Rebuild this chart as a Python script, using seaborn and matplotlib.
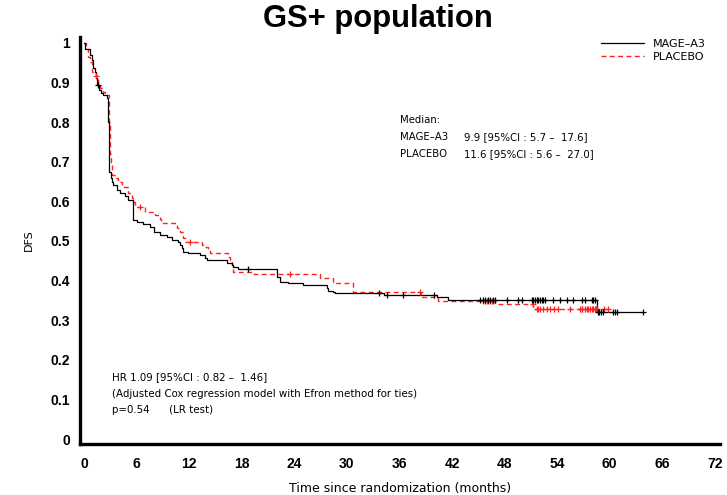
import numpy as np
import pandas as pd
import matplotlib
matplotlib.use("Agg")
import matplotlib.pyplot as plt
import seaborn as sns

# ---------------- data ----------------
arms = ["MAGE-A3", "PLACEBO"]

mage_times = [0.1, 0.7, 0.9, 1.0, 1.25, 1.35, 1.5, 1.7, 1.95, 2.15, 2.6,
              2.75, 2.78, 2.8, 2.83, 2.86, 2.9, 3.1, 3.2, 3.3, 3.75, 4.1, 4.65,
              5.0, 5.55, 5.6, 6.0, 6.75, 7.55, 8.0, 8.65, 9.5, 10.05, 10.7,
              11.0, 11.2, 11.3, 11.9, 13.2, 13.8, 14.05, 16.3, 16.9, 17.0, 17.6,
              22.0, 22.4, 23.3, 25.0, 27.7, 27.8, 28.4, 28.6, 34.2, 40.3, 41.6,
              58.56]
mage_surv = [0.985, 0.970, 0.957, 0.937, 0.927, 0.912, 0.894, 0.880, 0.874,
             0.869, 0.861, 0.84, 0.80, 0.76, 0.72, 0.69, 0.674, 0.66, 0.649,
             0.641, 0.629, 0.621, 0.614, 0.603, 0.580, 0.553, 0.548, 0.543,
             0.535, 0.523, 0.515, 0.510, 0.503, 0.497, 0.490, 0.482, 0.472,
             0.470, 0.465, 0.457, 0.452, 0.444, 0.440, 0.434, 0.429, 0.409,
             0.396, 0.394, 0.389, 0.381, 0.374, 0.371, 0.369, 0.364, 0.359,
             0.352, 0.321]
mage_end = 63.8
mage_censor = [1.6, 18.7, 33.7, 34.6, 36.4, 40.0, 45.2, 45.5, 45.8, 46.1, 46.4,
               46.7, 46.9, 48.3, 49.5, 50.0, 51.1, 51.2, 51.5, 51.7, 51.8, 52.0,
               52.3, 52.4, 52.6, 53.5, 54.3, 55.1, 55.8, 56.9, 57.2, 58.0, 58.1,
               58.3, 58.7, 58.8, 59.0, 59.2, 60.4, 60.6, 60.8, 63.8]

plac_times = [0.2, 0.45, 0.7, 0.9, 1.35, 1.6, 1.8, 2.2, 2.4, 2.85, 2.9, 2.95,
              3.0, 3.1, 3.25, 3.6, 3.9, 4.35, 5.0, 5.5, 5.6, 5.8, 6.95, 8.1,
              8.7, 8.8, 10.6, 10.96, 11.3, 11.5, 13.5, 13.6, 14.15, 14.4, 16.45,
              16.7, 16.9, 17.0, 19.3, 26.9, 28.4, 30.7, 38.5, 40.4, 46.9, 51.3]
plac_surv = [0.985, 0.965, 0.952, 0.927, 0.917, 0.900, 0.885, 0.875, 0.869,
             0.84, 0.80, 0.76, 0.72, 0.70, 0.667, 0.659, 0.649, 0.636, 0.621,
             0.608, 0.598, 0.586, 0.573, 0.566, 0.556, 0.545, 0.533, 0.523,
             0.508, 0.497, 0.490, 0.485, 0.477, 0.470, 0.460, 0.452, 0.440,
             0.422, 0.417, 0.407, 0.394, 0.371, 0.359, 0.349, 0.341, 0.328]
plac_end = 59.8
plac_censor = [1.4, 6.4, 12.1, 23.5, 38.3, 45.5, 45.8, 46.0, 46.1, 46.3, 46.6,
               46.7, 51.2, 51.7, 51.8, 52.0, 52.4, 52.8, 53.2, 53.7, 54.1, 55.5,
               56.6, 56.8, 56.9, 57.2, 57.4, 57.5, 57.8, 58.0, 58.1, 58.3, 58.5,
               58.6, 59.4, 59.8]

x_ticks = list(range(0, 73, 6))
y_ticks = [0, 0.1, 0.2, 0.3, 0.4, 0.5, 0.6, 0.7, 0.8, 0.9, 1]
y_ticklabels = ["0", "0.1", "0.2", "0.3", "0.4", "0.5", "0.6", "0.7", "0.8", "0.9", "1"]

title = "GS+ population"
median_header = "Median:"
median_arms = ["MAGE\u2013A3", "PLACEBO"]
median_values = ["9.9 [95%CI : 5.7 \u2013  17.6]",
                 "11.6 [95%CI : 5.6 \u2013  27.0]"]
hr_lines = ["HR 1.09 [95%CI : 0.82 \u2013  1.46]",
            "(Adjusted Cox regression model with Efron method for ties)",
            "p=0.54      (LR test)"]

# ---------------- build frames ----------------
def km_frame(times, surv, end, arm):
    t = [0.0] + list(times) + [end]
    s = [1.0] + list(surv) + [surv[-1]]
    return pd.DataFrame({"time": t, "surv": s, "arm": arm})

def censor_frame(ct, times, surv, arm):
    t_arr = np.array([0.0] + list(times))
    s_arr = np.array([1.0] + list(surv))
    idx = np.searchsorted(t_arr, np.array(ct), side="right") - 1
    return pd.DataFrame({"time": ct, "surv": s_arr[idx], "arm": arm})

df_m = km_frame(mage_times, mage_surv, mage_end, arms[0])
df_p = km_frame(plac_times, plac_surv, plac_end, arms[1])
cm = censor_frame(mage_censor, mage_times, mage_surv, arms[0])
cp = censor_frame(plac_censor, plac_times, plac_surv, arms[1])

# ---------------- plot ----------------
sns.set_theme(style="white")
plt.rcParams["font.family"] = ["Liberation Sans", "DejaVu Sans"]
plt.rcParams["text.color"] = "black"
plt.rcParams["axes.labelcolor"] = "black"

fig = plt.figure(figsize=(7.27, 4.95), dpi=100)
ax = fig.add_axes([80 / 727, 51 / 495, 640 / 727, 407 / 495])

sns.lineplot(data=df_p, x="time", y="surv", ax=ax, color="#ff2020",
             linestyle=(0, (3.5, 2.5)), linewidth=1.0, drawstyle="steps-post",
             estimator=None, sort=False, label="PLACEBO")
sns.lineplot(data=df_m, x="time", y="surv", ax=ax, color="black",
             linewidth=0.9, drawstyle="steps-post",
             estimator=None, sort=False, label="MAGE\u2013A3")
sns.scatterplot(data=cp, x="time", y="surv", ax=ax, marker="+", color="#ff2020",
                s=15, linewidth=0.9, legend=False, zorder=3)
sns.scatterplot(data=cm, x="time", y="surv", ax=ax, marker="+", color="black",
                s=15, linewidth=0.9, legend=False, zorder=3)

ax.set_xlim(-0.46, 72.6)
ax.set_ylim(-0.0126, 1.015)
ax.set_xticks(x_ticks)
ax.set_xticklabels([str(v) for v in x_ticks])
ax.set_yticks(y_ticks)
ax.set_yticklabels(y_ticklabels)

for side in ["top", "right"]:
    ax.spines[side].set_visible(False)
for side in ["left", "bottom"]:
    ax.spines[side].set_linewidth(2.4)
    ax.spines[side].set_color("black")
ax.tick_params(axis="both", direction="out", length=5, width=1.8,
               labelsize=10, colors="black")
ax.tick_params(axis="x", pad=4.5)
ax.tick_params(axis="y", pad=2)
for lbl in ax.get_xticklabels() + ax.get_yticklabels():
    lbl.set_fontweight("bold")

ax.set_xlabel("Time since randomization (months)", fontsize=9,
              family="DejaVu Sans", labelpad=8)
ax.set_ylabel("DFS", fontsize=8, family="DejaVu Sans", labelpad=12)

fig.text(378 / 727, 1 - 19.5 / 495, title, ha="center", va="center",
         fontsize=22.3, fontweight="bold")

# legend
handles, labels = ax.get_legend_handles_labels()
order = [1, 0]
leg = ax.legend([handles[i] for i in order], [labels[i] for i in order],
                loc="upper left", bbox_to_anchor=(601 / 727, 1 - 39 / 495),
                bbox_transform=fig.transFigure, frameon=False,
                prop={"family": "DejaVu Sans", "size": 8},
                handlelength=3.9, handletextpad=0.75, labelspacing=0.25,
                borderpad=0, borderaxespad=0)

# annotations
fig.text(400 / 727, 1 - 120 / 495, median_header, ha="left", va="center",
         fontsize=7.3, family="DejaVu Sans")
for y, a, v in zip([137, 154], median_arms, median_values):
    fig.text(400 / 727, 1 - y / 495, a, ha="left", va="center",
             fontsize=7.3, family="DejaVu Sans")
    fig.text(464 / 727, 1 - y / 495, v, ha="left", va="center",
             fontsize=7.3, family="DejaVu Sans")
for y, t in zip([377, 394, 410], hr_lines):
    fig.text(112 / 727, 1 - y / 495, t, ha="left", va="center",
             fontsize=7.4, family="DejaVu Sans")

fig.savefig("out.png", dpi=100)
